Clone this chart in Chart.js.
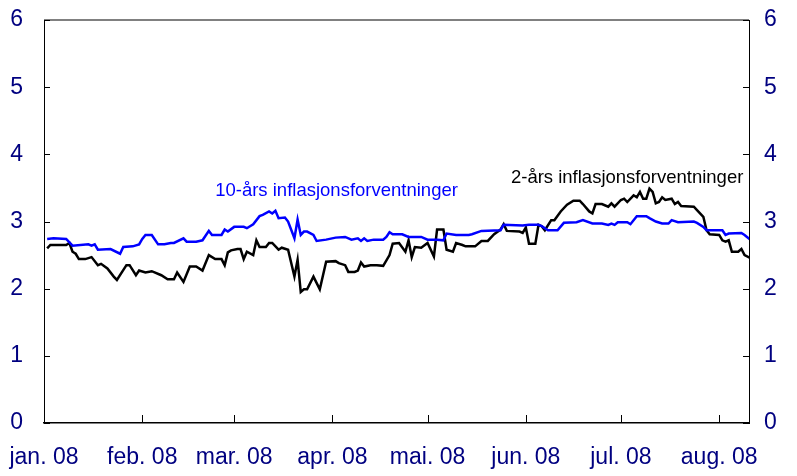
<!DOCTYPE html>
<html>
<head>
<meta charset="utf-8">
<script src="https://cdn.jsdelivr.net/npm/chart.js@4/dist/chart.umd.min.js"></script>
<style>
  html, body { margin: 0; padding: 0; background: #ffffff; }
  #wrap { width: 797px; height: 476px; }
</style>
</head>
<body>
<div id="wrap"><canvas id="c" width="797" height="476"></canvas></div>
<script>
// Month start positions (days since 1 Jan 2008) and their labels
const monthDays = [0, 31, 60, 91, 121, 152, 182, 213];
const monthLabels = ["jan. 08", "feb. 08", "mar. 08", "apr. 08", "mai. 08", "jun. 08", "jul. 08", "aug. 08"];
const yTicks = [0, 1, 2, 3, 4, 5, 6];

// 10-års inflasjonsforventninger (blue)
const tenYearDays = [1,3,7,9,14,15,16,17,21,24,25,28,30,31,32,34,36,38,40,41,44,45,48,50,52,53,56,57,58,60,63,64,66,68,69,71,72,73,74,76,77,79,80,81,82,83,85,86,89,92,95,97,99,100,101,102,104,107,108,109,110,113,115,119,121,124,126,127,130,134,135,138,144,145,151,153,156,157,159,162,164,168,170,173,176,178,179,180,181,184,185,187,190,191,193,195,197,198,200,205,206,208,209,214,215,216,220,221,223];
const tenYearVals = [2.74,2.75,2.74,2.64,2.66,2.64,2.66,2.58,2.59,2.52,2.62,2.63,2.66,2.74,2.80,2.80,2.66,2.66,2.68,2.68,2.75,2.70,2.70,2.72,2.86,2.80,2.80,2.88,2.85,2.92,2.92,2.90,2.96,3.08,3.10,3.15,3.12,3.16,3.05,3.06,3.00,2.75,3.03,2.80,2.85,2.85,2.80,2.71,2.73,2.76,2.77,2.73,2.75,2.71,2.75,2.71,2.73,2.73,2.77,2.84,2.81,2.81,2.77,2.77,2.73,2.73,2.72,2.82,2.80,2.80,2.81,2.86,2.87,2.95,2.94,2.95,2.95,2.93,2.87,2.87,2.98,2.99,3.02,2.97,2.97,2.95,2.97,2.95,2.99,2.99,2.96,3.08,3.08,3.05,3.00,2.97,2.97,3.02,2.99,3.00,2.98,2.92,2.87,2.87,2.80,2.82,2.83,2.80,2.72];

// 2-års inflasjonsforventninger (black)
const twoYearDays = [1,2,7,8,9,10,11,13,15,17,18,20,22,23,26,27,29,30,32,34,37,39,41,42,44,46,48,50,52,54,56,57,58,59,61,62,63,64,66,67,68,70,71,72,74,75,77,79,80,81,82,83,85,87,89,92,93,95,96,98,99,100,101,103,105,107,109,110,112,114,115,116,117,119,121,123,124,126,127,129,130,132,133,136,138,140,142,144,145,146,150,151,152,153,155,156,157,158,160,161,163,165,167,169,170,172,173,174,176,178,179,180,182,183,184,186,187,188,189,190,191,192,193,194,195,196,198,199,200,201,205,206,208,209,210,213,214,215,216,217,219,220,221,223];
const twoYearVals = [2.60,2.65,2.65,2.68,2.55,2.52,2.44,2.44,2.47,2.35,2.37,2.30,2.18,2.13,2.35,2.35,2.20,2.27,2.24,2.26,2.20,2.14,2.14,2.24,2.10,2.33,2.33,2.27,2.50,2.44,2.44,2.35,2.54,2.57,2.59,2.59,2.44,2.55,2.50,2.72,2.62,2.62,2.68,2.68,2.58,2.61,2.58,2.18,2.43,1.95,1.99,1.99,2.18,1.99,2.40,2.41,2.38,2.35,2.25,2.25,2.27,2.39,2.33,2.35,2.35,2.34,2.50,2.67,2.68,2.55,2.72,2.47,2.62,2.61,2.68,2.48,2.88,2.88,2.58,2.55,2.68,2.65,2.63,2.63,2.71,2.71,2.81,2.88,2.96,2.86,2.85,2.83,2.91,2.67,2.67,2.95,2.93,2.87,3.02,3.02,3.15,3.25,3.31,3.31,3.26,3.15,3.12,3.26,3.26,3.22,3.27,3.22,3.32,3.34,3.29,3.39,3.36,3.44,3.34,3.34,3.49,3.44,3.27,3.29,3.36,3.32,3.34,3.26,3.29,3.23,3.22,3.17,3.07,2.87,2.81,2.80,2.72,2.70,2.72,2.55,2.55,2.59,2.50,2.45];

const tenYearLabel = "10-års inflasjonsforventninger";
const twoYearLabel = "2-års inflasjonsforventninger";

const toPoints = (xs, ys) => xs.map((d, i) => ({ x: d, y: ys[i] }));

const TICK_FONT = { family: "'Liberation Sans', Arial, sans-serif", size: 23 };
const TICK_COLOR = "#000080";

const noPad = (s) => { s.paddingLeft = 0; s.paddingRight = 0; s.paddingTop = 0; s.paddingBottom = 0; };

const decorPlugin = {
  id: "decor",
  afterDatasetsDraw(chart) {
    const ctx = chart.ctx;
    const ca = chart.chartArea;
    const xs = chart.scales.x, yl = chart.scales.y, yr = chart.scales.y2;
    ctx.save();
    // top border (grey)
    ctx.strokeStyle = "#808080";
    ctx.lineWidth = 2;
    ctx.beginPath();
    ctx.moveTo(ca.left, ca.top);
    ctx.lineTo(ca.right, ca.top);
    ctx.stroke();
    // inward tick marks
    ctx.strokeStyle = "#000000";
    ctx.lineWidth = 1;
    ctx.beginPath();
    xs.ticks.forEach(t => {
      const px = Math.round(xs.getPixelForValue(t.value)) + 0.5;
      ctx.moveTo(px, ca.bottom);
      ctx.lineTo(px, ca.bottom - 8);
    });
    yl.ticks.forEach(t => {
      const py = Math.round(yl.getPixelForValue(t.value)) + 0.5;
      ctx.moveTo(ca.left, py);
      ctx.lineTo(ca.left + 6, py);
    });
    yr.ticks.forEach(t => {
      const py = Math.round(yr.getPixelForValue(t.value)) + 0.5;
      ctx.moveTo(ca.right, py);
      ctx.lineTo(ca.right - 6, py);
    });
    ctx.stroke();
    // series annotations
    ctx.font = "18.5px 'Liberation Sans', Arial, sans-serif";
    ctx.textBaseline = "alphabetic";
    ctx.textAlign = "left";
    ctx.fillStyle = "#0000FF";
    ctx.fillText(tenYearLabel, xs.getPixelForValue(54), yl.getPixelForValue(3.38));
    ctx.fillStyle = "#000000";
    ctx.fillText(twoYearLabel, xs.getPixelForValue(147.3), yl.getPixelForValue(3.57));
    ctx.restore();
  }
};

new Chart(document.getElementById("c"), {
  type: "line",
  data: {
    datasets: [
      {
        label: tenYearLabel,
        data: toPoints(tenYearDays, tenYearVals),
        borderColor: "#0000FF",
        borderWidth: 2.5,
        pointRadius: 0,
        tension: 0,
        yAxisID: "y"
      },
      {
        label: twoYearLabel,
        data: toPoints(twoYearDays, twoYearVals),
        borderColor: "#000000",
        borderWidth: 2.5,
        pointRadius: 0,
        tension: 0,
        yAxisID: "y"
      }
    ]
  },
  options: {
    responsive: false,
    animation: false,
    layout: { padding: { top: 20, left: 0, right: 0, bottom: 0 } },
    plugins: { legend: { display: false }, tooltip: { enabled: false } },
    scales: {
      x: {
        type: "linear",
        position: "bottom",
        min: 0,
        max: 222.4,
        afterBuildTicks: (s) => { s.ticks = monthDays.map(v => ({ value: v })); },
        afterFit: (s) => { s.height = 53; noPad(s); },
        ticks: {
          color: TICK_COLOR,
          font: TICK_FONT,
          padding: 21,
          maxRotation: 0,
          autoSkip: false,
          callback: (v) => monthLabels[monthDays.indexOf(v)]
        },
        grid: { display: false, drawTicks: false },
        border: { display: true, color: "#000000", width: 1.5 }
      },
      y: {
        position: "left",
        min: 0,
        max: 6,
        afterBuildTicks: (s) => { s.ticks = yTicks.map(v => ({ value: v })); },
        afterFit: (s) => { s.width = 44; noPad(s); },
        ticks: { color: TICK_COLOR, font: TICK_FONT, padding: 21 },
        grid: { display: false, drawTicks: false },
        border: { display: true, color: "#000000", width: 1 }
      },
      y2: {
        position: "right",
        min: 0,
        max: 6,
        afterBuildTicks: (s) => { s.ticks = yTicks.map(v => ({ value: v })); },
        afterFit: (s) => { s.width = 48; noPad(s); },
        ticks: { color: TICK_COLOR, font: TICK_FONT, padding: 15 },
        grid: { display: false, drawTicks: false },
        border: { display: true, color: "#000000", width: 1 }
      }
    }
  },
  plugins: [decorPlugin]
});
</script>
</body>
</html>
